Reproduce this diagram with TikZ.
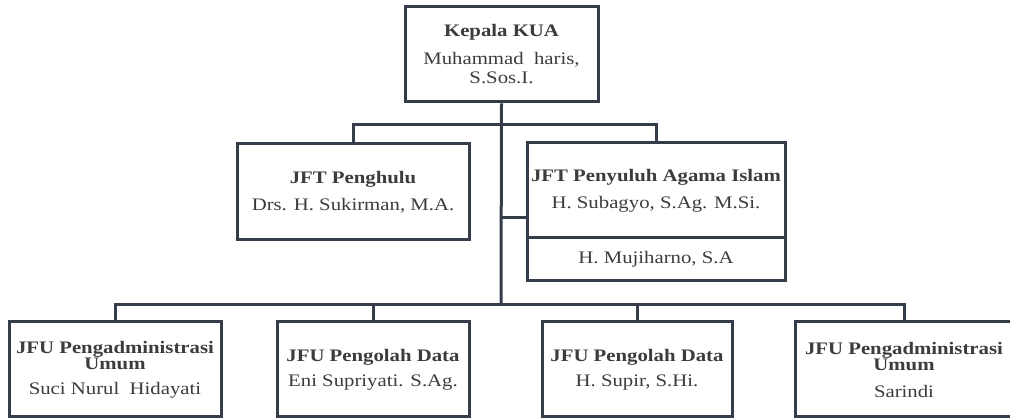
\documentclass[tikz,border=0pt]{standalone}
\usepackage{fontspec}
\setmainfont{Liberation Serif}[FakeStretch=1.18]
\definecolor{frame}{HTML}{353C4A}
\definecolor{txt}{HTML}{3C3C3C}
\begin{document}
\begin{tikzpicture}[x=1pt,y=-1pt,
  box/.style={draw=frame,line width=3pt,fill=white,align=center,inner sep=2pt,
    text=txt,font=\fontsize{17.6}{21}\selectfont},
  conn/.style={draw=frame,line width=3pt}]
\useasboundingbox (0,0) rectangle (1010,419);
\fill[white] (0,0) rectangle (1010,419);
% nodes
\node[box,minimum width=193pt,minimum height=95pt] (kepala) at (501.5,54.5)
  {\textbf{Kepala KUA}\\[7pt]Muhammad\ \ haris,\\[-2pt]S.Sos.I.};
\node[box,minimum width=232pt,minimum height=96pt] (penghulu) at (353,192)
  {\textbf{JFT Penghulu}\\[6pt]Drs. H. Sukirman, M.A.};
\node[box,minimum width=258pt,minimum height=95pt] (penyuluh) at (656,190.5)
  {\textbf{JFT Penyuluh Agama Islam}\\[6pt]H. Subagyo, S.Ag. M.Si.};
\node[box,minimum width=258pt,minimum height=43pt] (mujiharno) at (656,259.5)
  {H. Mujiharno, S.A};
\node[box,minimum width=212pt,minimum height=95pt] (jfua) at (115,369.5)
  {\textbf{JFU Pengadministrasi}\\[-5pt]\textbf{Umum}\\[4pt]Suci Nurul\ \ Hidayati};
\node[box,minimum width=192pt,minimum height=95pt] (jfub) at (373,369.5)
  {\textbf{JFU Pengolah Data}\\[4pt]Eni Supriyati. S.Ag.};
\node[box,minimum width=190pt,minimum height=95pt] (jfuc) at (637,369.5)
  {\textbf{JFU Pengolah Data}\\[4pt]H. Supir, S.Hi.};
\node[box,minimum width=218pt,minimum height=95pt] (jfud) at (904,369.5)
  {\textbf{JFU Pengadministrasi}\\[-5pt]\textbf{Umum}\\[6pt]Sarindi};
% bus coordinates
\coordinate (busa) at (501,125);
\coordinate (stub) at (501,218);
\coordinate (busb) at (501,305);
% connectors
\draw[conn] (kepala.south) -- (busb);
\draw[conn] (penghulu.north) |- (busa) -| (penyuluh.north);
\draw[conn] (stub) -- (stub -| penyuluh.west);
\draw[conn] (jfua.north) |- (busb) -| (jfud.north);
\draw[conn] (jfub.north) |- (busb);
\draw[conn] (jfuc.north) |- (busb);
\end{tikzpicture}
\end{document}
